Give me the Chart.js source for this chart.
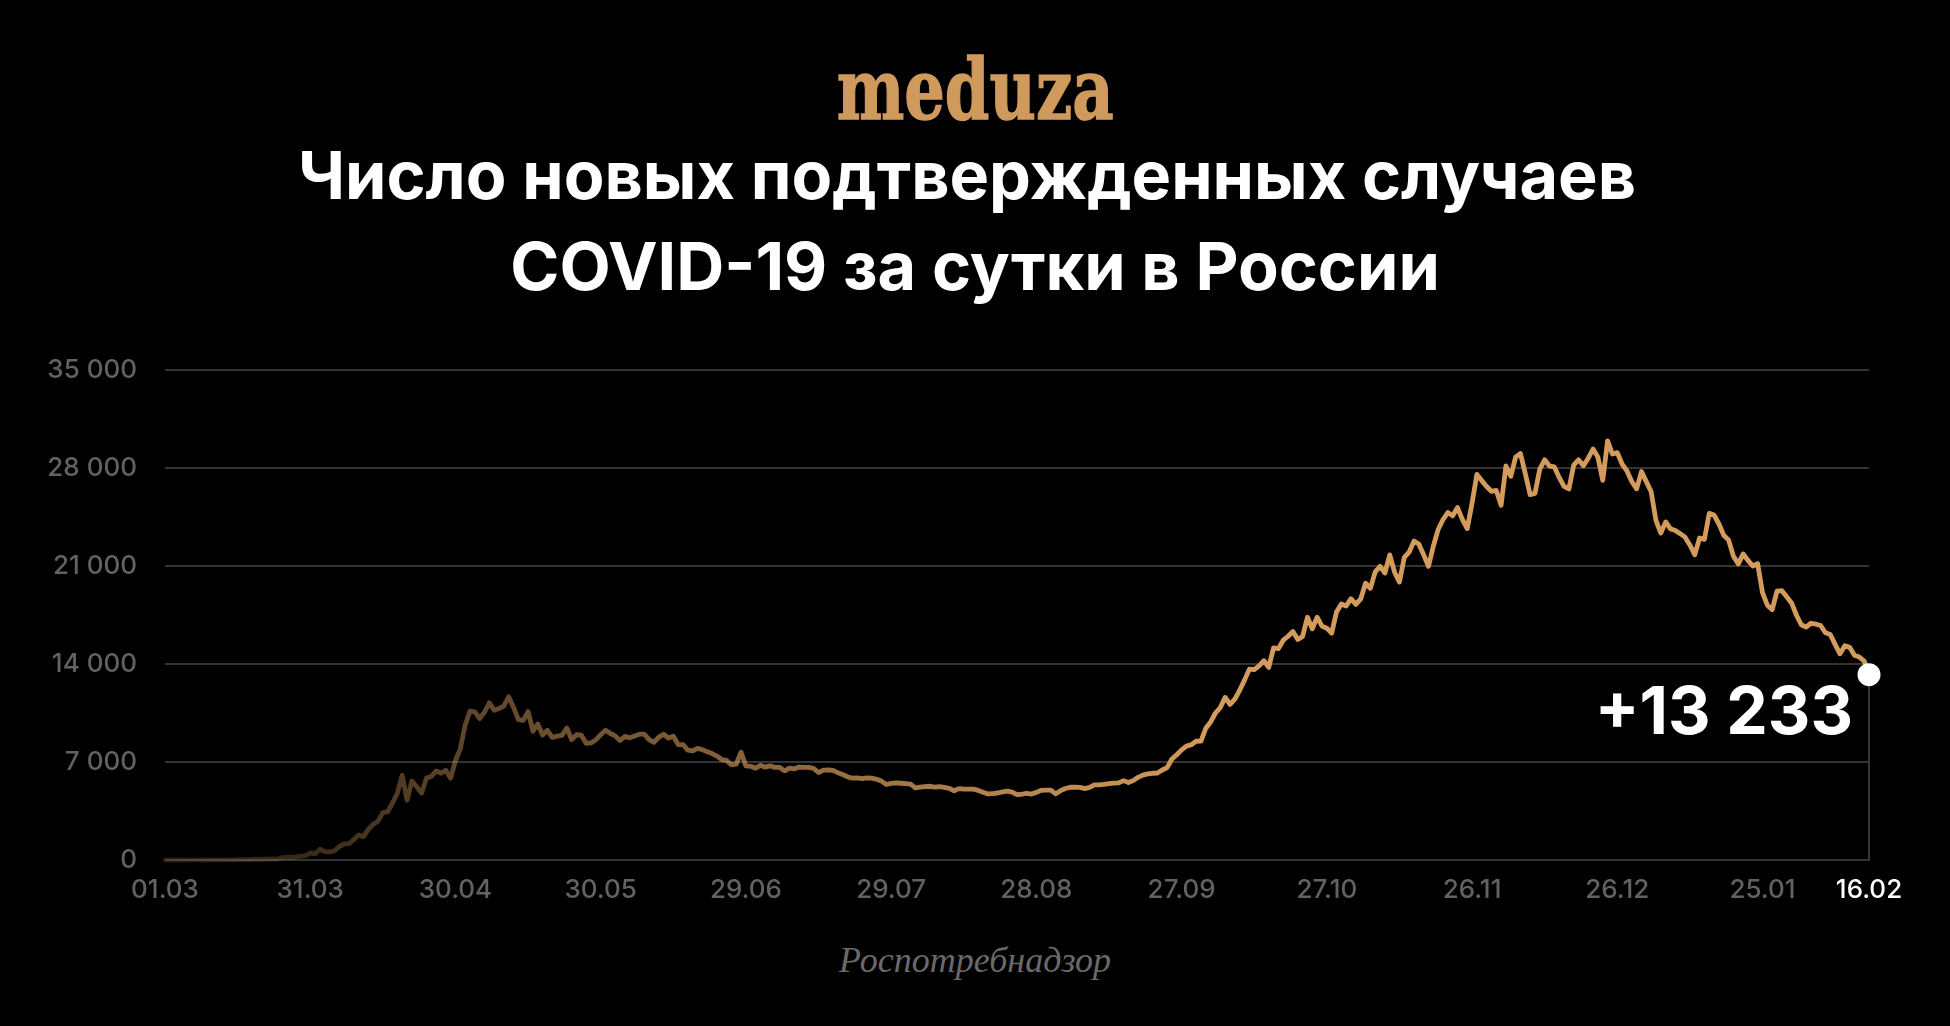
<!DOCTYPE html>
<html>
<head>
<meta charset="utf-8">
<script src="https://cdn.jsdelivr.net/npm/chart.js@4.4.1/dist/chart.umd.min.js"></script>
<style>
  html, body { margin:0; padding:0; background:#000; width:1950px; height:1026px; overflow:hidden; }
  #logo { position:absolute; left:0; width:1950px; top:48px; text-align:center; line-height:1; }
  #logo span { display:inline-block; font-family:"DejaVu Serif", serif; font-weight:900; font-size:84px; color:#cf9a5c; transform-origin:center; -webkit-text-stroke:1.5px #cf9a5c; }
  .title { position:absolute; left:0; width:1950px; text-align:center; color:#fff; font-family:"Inter", sans-serif; font-weight:700; font-size:66.5px; line-height:1; white-space:nowrap; }
  #t1 { top:142px; left:-8px; }
  #t2 { top:233px; }
  #source { position:absolute; left:0; width:1950px; top:942px; text-align:center; line-height:1; font-family:"Liberation Serif", serif; font-style:italic; font-size:36px; color:#6a6a6a; }
  #chartBox { position:absolute; left:0; top:0; width:1950px; height:1026px; }
</style>
</head>
<body>
<div id="logo"><span id="logoText">meduza</span></div>
<div class="title" id="t1">Число новых подтвержденных случаев</div>
<div class="title" id="t2">COVID-19 за сутки в России</div>
<div id="source">Роспотребнадзор</div>
<div id="chartBox"><canvas id="c" width="1950" height="1026"></canvas></div>
<script>
// ---- DATA (daily new cases, 01.03.2020 – 16.02.2021) ----
const march = [0,1,0,0,1,6,3,2,0,3,8,6,11,14,4,30,21,33,52,54,53,61,71,57,163,182,196,228,270,302,501];
const april = [440,771,601,582,658,954,1154,1175,1459,1786,1667,2186,2558,2774,3388,3448,4070,4785,6060,4268,5642,5236,4774,5849,5966,6361,6198,6411,5841,7099];
const may = [7933,9623,10633,10581,10102,10559,11231,10699,10817,11012,11656,10899,10028,9974,10598,9200,9709,8926,9263,8764,8849,8894,9434,8599,8946,8915,8338,8371,8572,8952,9268];
const june = [9035,8863,8536,8831,8726,8855,8984,8985,8595,8404,8779,8987,8706,8835,8246,8248,7843,7790,7972,7889,7728,7600,7425,7176,7113,6800,6852,7700,6719,6693];
const july = [6556,6760,6632,6736,6611,6611,6368,6562,6509,6635,6615,6611,6537,6248,6422,6428,6406,6234,6109,5940,5842,5862,5811,5871,5842,5765,5635,5395,5475,5509,5482];
const august = [5462,5427,5159,5204,5241,5267,5212,5241,5189,5118,4945,5102,5057,5061,5065,4969,4839,4718,4748,4785,4870,4921,4852,4676,4696,4767,4711,4829,4980,4993,4995];
const september = [4729,4952,5110,5195,5205,5185,5099,5185,5363,5363,5406,5449,5488,5509,5670,5529,5670,5905,6065,6148,6196,6215,6431,6595,7212,7523,7867,8135,8232,8481];
const october = [8485,9412,9859,10499,10888,11615,11115,11493,12126,12846,13634,13592,13868,14231,13754,15150,15099,15700,15982,16319,15753,15971,17340,16521,17347,16710,16550,16202,17717,18283,18140];
const november = [18665,18257,18648,19768,19404,20582,20977,20498,21798,20558,19851,21608,21983,22778,22572,21798,20985,22410,23610,24318,24822,24581,25173,24326,23675,25487,27543,27100,26683,26338];
const december = [26402,25345,28145,27403,28782,29039,27600,26097,26190,27927,28585,28137,28080,27328,26689,26500,28200,28590,28160,28700,29350,28776,27120,29935,29000,29100,28284,27787,27039,26513,27747];
const january = [27029,26301,24246,23351,24150,23652,23541,23309,23060,22500,21800,23000,22900,24760,24640,24000,23200,22850,21700,21152,21860,21400,21000,21160,19100,18200,17880,19200,19238,18800,18359];
const february = [17500,16800,16640,16910,16850,16750,16230,16110,15400,14730,15310,15190,14620,14500,14207,13233];

const dailyCases = [].concat(march, april, may, june, july, august, september, october, november, december, january, february);

const xTickDays   = [0,30,60,90,120,150,180,210,240,270,300,330,352];
const xTickLabels = ['01.03','31.03','30.04','30.05','29.06','29.07','28.08','27.09','27.10','26.11','26.12','25.01','16.02'];
const yTickValues = [0,7000,14000,21000,28000,35000];
const yTickLabels = ['0','7 000','14 000','21 000','28 000','35 000'];

// ---- helpers ----
function fmt(v){ return String(v).replace(/\B(?=(\d{3})+(?!\d))/g, ' '); }
const lastIdx = dailyCases.length - 1;
const LINE_RGB = '211,155,92';
let gradCache = null;
function lineGradient(ctx) {
  const chart = ctx.chart;
  const area = chart.chartArea;
  if (!area) return 'rgb(' + LINE_RGB + ')';
  if (gradCache && gradCache.l === area.left && gradCache.r === area.right) return gradCache.g;
  const g = chart.ctx.createLinearGradient(area.left, 0, area.right, 0);
  const n = lastIdx;
  const stops = [[0,0.16],[30,0.28],[60,0.44],[120,0.64],[180,0.88],[215,1],[352,1]];
  stops.forEach(s => g.addColorStop(s[0]/n, 'rgba(' + LINE_RGB + ',' + s[1] + ')'));
  gradCache = {l: area.left, r: area.right, g};
  return g;
}

const endPlugin = {
  id: 'endMarker',
  beforeDatasetsDraw(chart) {
    const pt = chart.getDatasetMeta(0).data[lastIdx];
    const c = chart.ctx;
    c.save();
    c.strokeStyle = '#363636';
    c.lineWidth = 2;
    c.beginPath();
    c.moveTo(pt.x, pt.y);
    c.lineTo(pt.x, chart.chartArea.bottom + 1);
    c.stroke();
    c.restore();
  },
  afterDatasetsDraw(chart) {
    const pt = chart.getDatasetMeta(0).data[lastIdx];
    const c = chart.ctx;
    c.save();
    c.font = '700 66px Inter';
    c.fillStyle = '#ffffff';
    c.textAlign = 'right';
    c.textBaseline = 'alphabetic';
    c.fillText('+' + fmt(dailyCases[lastIdx]), pt.x - 16, pt.y + 59);
    c.restore();
  }
};

function fitLogo() {
  const el = document.getElementById('logoText');
  const w = el.getBoundingClientRect().width;
  el.style.transform = 'scaleX(' + (277 / w) + ')';
}

function build() {
  fitLogo();
  const tickFont = { family: 'Inter', size: 26, weight: '500' };
  new Chart(document.getElementById('c'), {
    type: 'line',
    data: {
      datasets: [{
        data: dailyCases.map((v, i) => ({ x: i, y: v })),
        borderColor: lineGradient,
        borderWidth: 4.8,
        borderJoinStyle: 'round',
        borderCapStyle: 'round',
        tension: 0,
        fill: false,
        clip: false,
        pointRadius: ctx => ctx.dataIndex === lastIdx ? 11.5 : 0,
        pointHoverRadius: ctx => ctx.dataIndex === lastIdx ? 11.5 : 0,
        pointBackgroundColor: '#ffffff',
        pointBorderWidth: 0
      }]
    },
    options: {
      responsive: false,
      animation: false,
      events: [],
      layout: { padding: { left: 0, right: 81, top: 370, bottom: 106 } },
      plugins: { legend: { display: false }, tooltip: { enabled: false } },
      scales: {
        x: {
          type: 'linear',
          min: 0, max: lastIdx,
          grid: { display: false },
          border: { display: false },
          afterBuildTicks: s => { s.ticks = xTickDays.map(v => ({ value: v })); },
          afterFit: s => { s.height = 60; },
          ticks: {
            autoSkip: false, maxRotation: 0, minRotation: 0, padding: 7,
            font: tickFont,
            color: ctx => ctx.index === xTickDays.length - 1 ? '#ffffff' : '#626262',
            callback: (v, i) => xTickLabels[i]
          }
        },
        y: {
          min: 0, max: 35000,
          grid: { color: '#343434', lineWidth: 2, drawTicks: false },
          border: { display: false },
          afterBuildTicks: s => { s.ticks = yTickValues.map(v => ({ value: v })); },
          afterFit: s => { s.width = 165; },
          ticks: {
            padding: 28,
            font: tickFont,
            color: '#626262',
            callback: (v, i) => yTickLabels[i]
          }
        }
      }
    },
    plugins: [endPlugin]
  });
}

Promise.all([
  document.fonts.load('700 66px Inter'),
  document.fonts.load('500 26px Inter'),
  document.fonts.load('900 84px "DejaVu Serif"'),
  document.fonts.load('italic 36px "Liberation Serif"')
]).then(build, build);
</script>
</body>
</html>
